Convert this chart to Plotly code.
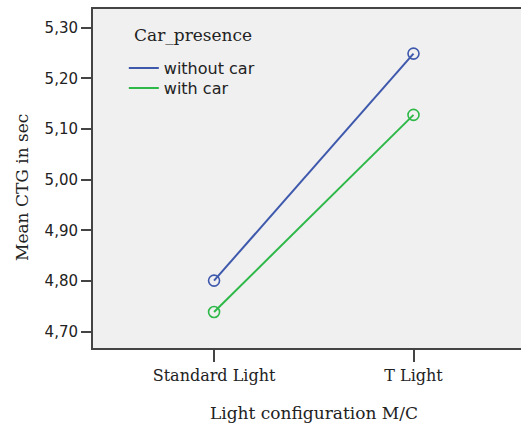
import plotly.graph_objects as go

categories = ["Standard Light", "T Light"]
without_car = [4.801, 5.249]
with_car = [4.739, 5.128]
series_names = ["without car", "with car"]
y_ticks = [4.70, 4.80, 4.90, 5.00, 5.10, 5.20, 5.30]

BLUE = "#3e58ac"
GREEN = "#2eb848"
SERIF = "DejaVu Serif"
SANS = "DejaVu Sans"
TXT = "#222"

legend_names = ["legend", "legend2"]
fig = go.Figure()
for name, vals, col, lg in [(series_names[0], without_car, BLUE, legend_names[0]),
                            (series_names[1], with_car, GREEN, legend_names[1])]:
    fig.add_trace(go.Scatter(
        x=categories, y=vals, name=name, mode="lines+markers", showlegend=False,
        line=dict(color=col, width=2),
        marker=dict(symbol="circle-open", size=11, color=col, line=dict(width=1.6, color=col)),
    ))
    # legend entry (line only, as in the reference)
    fig.add_trace(go.Scatter(
        x=[None], y=[None], name=name, mode="lines",
        line=dict(color=col, width=2), showlegend=True, legend=lg,
    ))

leg_common = dict(font=dict(family=SANS, size=16, color=TXT), xanchor="left", yanchor="top",
                  bgcolor="rgba(0,0,0,0)", itemwidth=30)

fig.update_layout(
    width=521, height=425,
    margin=dict(l=93, r=0, t=9, b=77),
    paper_bgcolor="white",
    plot_bgcolor="#f0f0f0",
    separators=",.",
    showlegend=True,
    legend=dict(x=0.072, y=1 - (51 - 9) / 339, **leg_common),
    legend2=dict(x=0.072, y=1 - (71 - 9) / 339, **leg_common),
    annotations=[
        dict(text="Car_presence", xref="paper", yref="paper",
             x=(132 - 93) / 428, y=1 - (35 - 9) / 339, xanchor="left", yanchor="middle",
             showarrow=False, font=dict(family=SERIF, size=17, color=TXT)),
        dict(text="Mean CTG in sec", xref="paper", yref="paper",
             x=(22 - 93) / 428, y=1 - (188 - 9) / 339, xanchor="center", yanchor="middle",
             textangle=-90, showarrow=False, font=dict(family=SERIF, size=17, color=TXT)),
        dict(text="Light configuration M/C", xref="paper", yref="paper",
             x=(313.5 - 93) / 428, y=(348 - 413) / 339, xanchor="center", yanchor="middle",
             showarrow=False, font=dict(family=SERIF, size=17, color=TXT)),
    ],
)
fig.update_xaxes(
    type="category", range=[-0.607, 1.539],
    showgrid=False, zeroline=False,
    showline=True, linecolor="#444", linewidth=2, mirror=True,
    ticks="outside", ticklen=12, tickwidth=2, tickcolor="#444",
    tickfont=dict(family=SERIF, size=16, color=TXT),
)
fig.update_yaxes(
    range=[4.668, 5.337],
    tickvals=y_ticks, tickformat=".2f",
    showgrid=False, zeroline=False,
    showline=True, linecolor="#444", linewidth=2,
    ticks="outside", ticklen=10, tickwidth=2, tickcolor="#444",
    tickfont=dict(family=SANS, size=15, color=TXT),
)

fig.write_html("out.html")
